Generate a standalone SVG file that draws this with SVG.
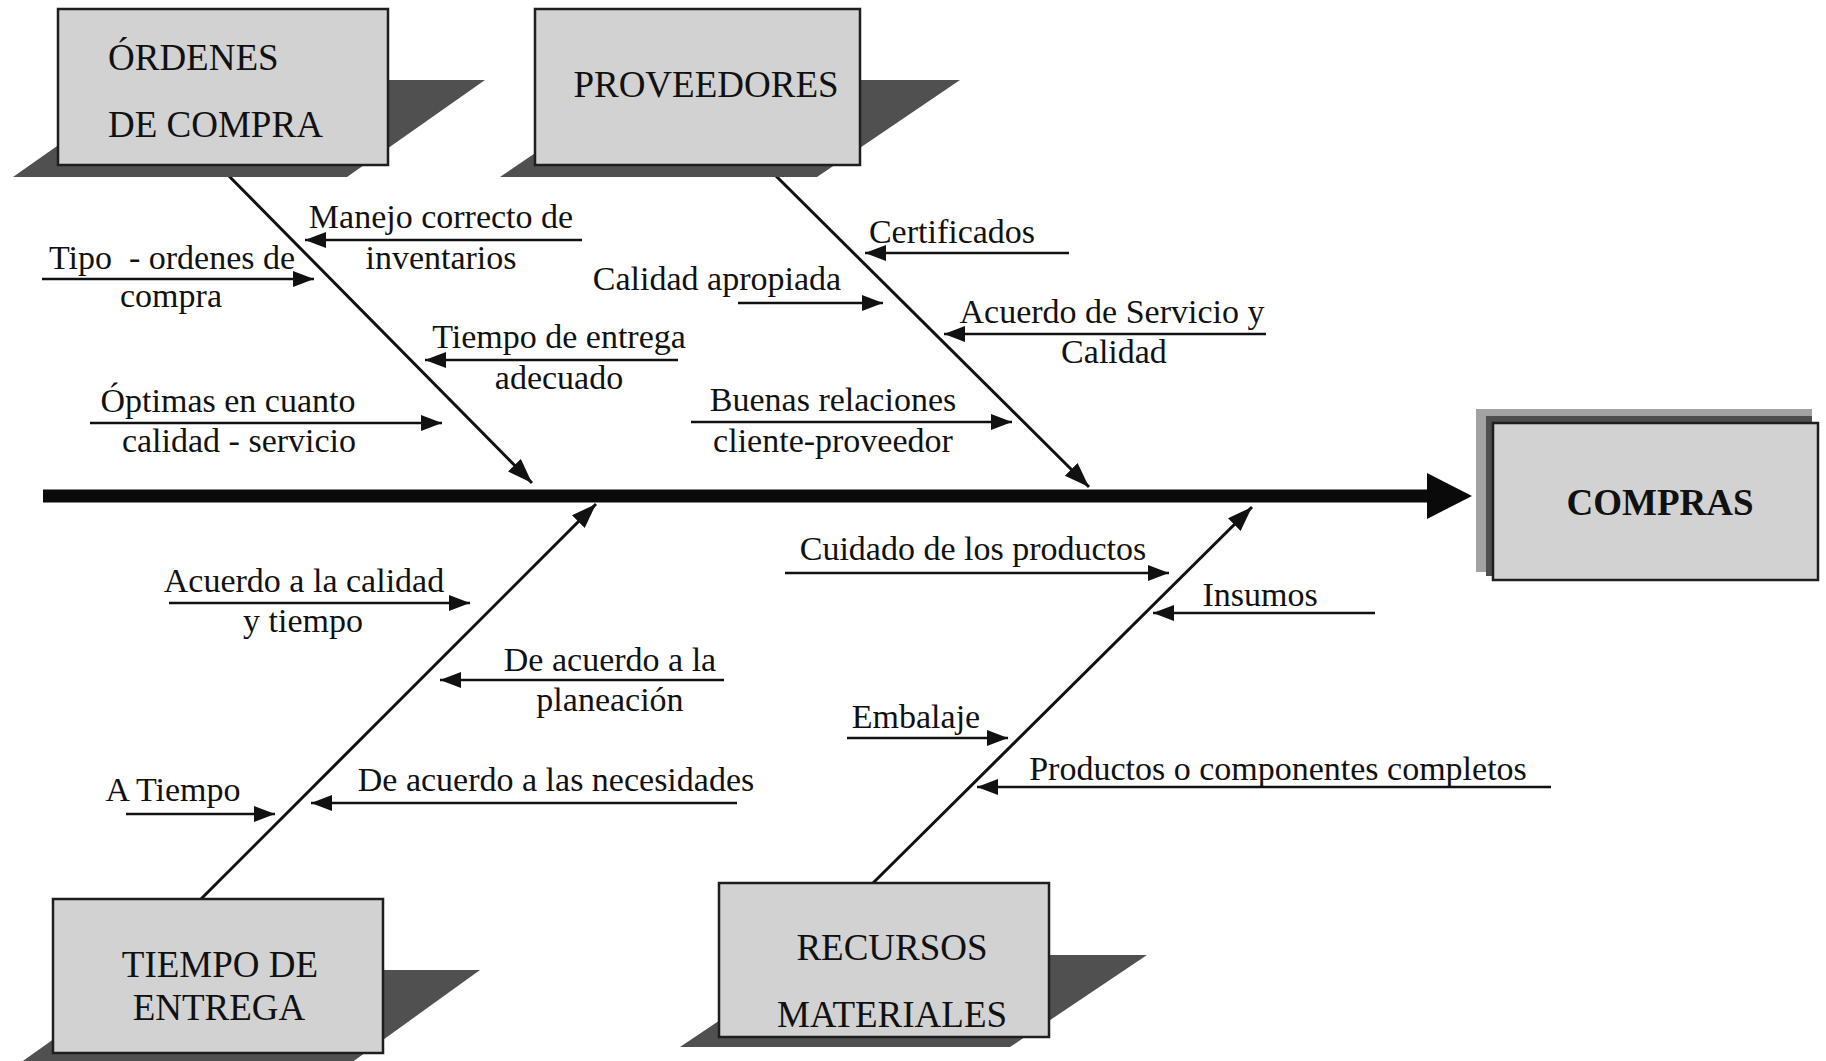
<svg xmlns="http://www.w3.org/2000/svg" width="1826" height="1061" viewBox="0 0 1826 1061">
<style>
  .box { fill: #d2d2d2; stroke: #1e1e1e; stroke-width: 2.5; }
  .shadow { fill: #505050; }
  .title { font-family: "Liberation Serif", "Times New Roman", serif; font-size: 37px; fill: #111; }
  .label { font-family: "Liberation Serif", "Times New Roman", serif; font-size: 34px; fill: #111; text-anchor: middle; white-space: pre; }
  .sub { stroke: #111; stroke-width: 2.5; fill: none; marker-end: url(#ah); }
  .bone { stroke: #111; stroke-width: 3; fill: none; marker-end: url(#bh); }
</style>
<defs>
  <marker id="ah" markerUnits="userSpaceOnUse" markerWidth="22" markerHeight="18" refX="21" refY="8" orient="auto">
    <path d="M0,0 L21,8 L0,16 Z" fill="#111"/>
  </marker>
  <marker id="bh" markerUnits="userSpaceOnUse" markerWidth="26" markerHeight="20" refX="25" refY="9" orient="auto">
    <path d="M0,0 L25,9 L0,18 Z" fill="#111"/>
  </marker>
</defs>
<rect width="1826" height="1061" fill="#ffffff"/>

<g id="connectors">
  <!-- spine -->
  <line x1="43" y1="496" x2="1430" y2="496" stroke="#0a0a0a" stroke-width="13"/>
  <polygon points="1427,473 1472,496 1427,519" fill="#0a0a0a"/>
  <!-- bones -->
  <line class="bone" x1="225" y1="172" x2="532" y2="483"/>
  <line class="bone" x1="772" y1="172" x2="1089" y2="487"/>
  <line class="bone" x1="201" y1="899" x2="596" y2="504"/>
  <line class="bone" x1="873" y1="883" x2="1252" y2="507"/>
  <!-- sub-causes ÓRDENES -->
  <line class="sub" x1="582" y1="240" x2="305" y2="240"/>
  <line class="sub" x1="42" y1="279" x2="314" y2="279"/>
  <line class="sub" x1="678" y1="360" x2="425" y2="360"/>
  <line class="sub" x1="90" y1="423" x2="442" y2="423"/>
  <!-- sub-causes PROVEEDORES -->
  <line class="sub" x1="1069" y1="253" x2="865" y2="253"/>
  <line class="sub" x1="738" y1="303" x2="883" y2="303"/>
  <line class="sub" x1="1266" y1="334" x2="944" y2="334"/>
  <line class="sub" x1="691" y1="422" x2="1012" y2="422"/>
  <!-- sub-causes TIEMPO -->
  <line class="sub" x1="169" y1="603" x2="470" y2="603"/>
  <line class="sub" x1="724" y1="680" x2="440" y2="680"/>
  <line class="sub" x1="126" y1="814" x2="275" y2="814"/>
  <line class="sub" x1="737" y1="803" x2="311" y2="803"/>
  <!-- sub-causes RECURSOS -->
  <line class="sub" x1="785" y1="573" x2="1169" y2="573"/>
  <line class="sub" x1="1375" y1="613" x2="1153" y2="613"/>
  <line class="sub" x1="847" y1="738" x2="1008" y2="738"/>
  <line class="sub" x1="1551" y1="787" x2="977" y2="787"/>
</g>

<g id="labels">
  <text class="label" x="441" y="228">Manejo correcto de</text>
  <text class="label" x="441" y="269">inventarios</text>
  <text class="label" x="172" y="269">Tipo  - ordenes de</text>
  <text class="label" x="171" y="307">compra</text>
  <text class="label" x="559" y="348">Tiempo de entrega</text>
  <text class="label" x="559" y="389">adecuado</text>
  <text class="label" x="228" y="412">Óptimas en cuanto</text>
  <text class="label" x="239" y="452">calidad - servicio</text>

  <text class="label" x="952" y="243">Certificados</text>
  <text class="label" x="717" y="290">Calidad apropiada</text>
  <text class="label" x="1112" y="323">Acuerdo de Servicio y</text>
  <text class="label" x="1114" y="363">Calidad</text>
  <text class="label" x="833" y="411">Buenas relaciones</text>
  <text class="label" x="833" y="452">cliente-proveedor</text>

  <text class="label" x="304" y="592">Acuerdo a la calidad</text>
  <text class="label" x="303" y="632">y tiempo</text>
  <text class="label" x="610" y="671">De acuerdo a la</text>
  <text class="label" x="610" y="711">planeación</text>
  <text class="label" x="173" y="801">A Tiempo</text>
  <text class="label" x="556" y="791">De acuerdo a las necesidades</text>

  <text class="label" x="973" y="560">Cuidado de los productos</text>
  <text class="label" x="1260" y="606">Insumos</text>
  <text class="label" x="916" y="728">Embalaje</text>
  <text class="label" x="1278" y="780">Productos o componentes completos</text>
</g>

<g id="node-ordenes">
  <polygon class="shadow" points="13,177 347,177 485,80 151,80"/>
  <rect class="box" x="58" y="9" width="330" height="156"/>
  <text class="title" x="108" y="70">ÓRDENES</text>
  <text class="title" x="108" y="137">DE COMPRA</text>
</g>

<g id="node-proveedores">
  <polygon class="shadow" points="500,177 817,177 960,80 643,80"/>
  <rect class="box" x="535" y="9" width="325" height="156"/>
  <text class="title" x="706" y="97" text-anchor="middle">PROVEEDORES</text>
</g>

<g id="node-tiempo">
  <polygon class="shadow" points="13,1068 344,1068 480,970 151,970"/>
  <rect class="box" x="53" y="899" width="330" height="154"/>
  <text class="title" x="220" y="977" text-anchor="middle">TIEMPO DE</text>
  <text class="title" x="219" y="1020" text-anchor="middle">ENTREGA</text>
</g>

<g id="node-recursos">
  <polygon class="shadow" points="680,1047 1010,1047 1147,955 817,955"/>
  <rect class="box" x="719" y="883" width="330" height="154"/>
  <text class="title" x="892" y="960" text-anchor="middle">RECURSOS</text>
  <text class="title" x="892" y="1027" text-anchor="middle">MATERIALES</text>
</g>

<g id="node-compras">
  <rect x="1476" y="409" width="336" height="163" fill="#a2a2a2"/>
  <rect x="1486" y="416" width="326" height="160" fill="#4e4e4e"/>
  <rect class="box" x="1493" y="423" width="325" height="157"/>
  <text class="title" x="1660" y="515" text-anchor="middle" font-weight="bold">COMPRAS</text>
</g>
</svg>
